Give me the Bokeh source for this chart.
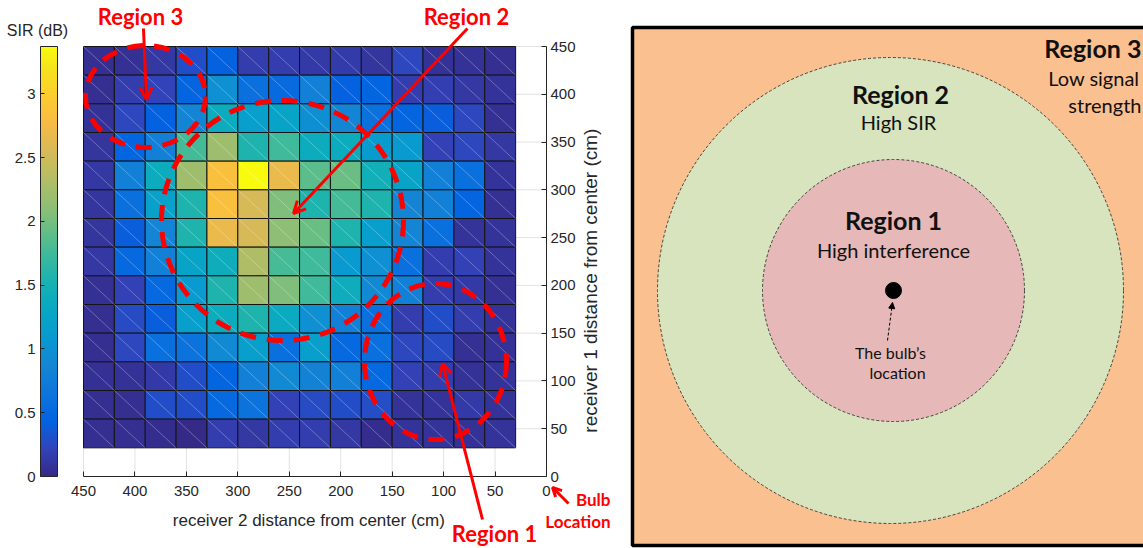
import numpy as np
from bokeh.plotting import figure
from bokeh.models import (ColumnDataSource, Range1d, FixedTicker, LinearColorMapper, LinearAxis,
                          Label, Arrow, OpenHead, NormalHead, PrintfTickFormatter)
from bokeh.embed import file_html
from bokeh.resources import INLINE

# ---------------- data ----------------
receiver2_cm = [435, 405, 375, 345, 315, 285, 255, 225, 195, 165, 135, 105, 75, 45]
receiver1_cm = [435, 405, 375, 345, 315, 285, 255, 225, 195, 165, 135, 105, 75, 45]
cell_cm = 30
# rows from top (receiver 1 = 435) to bottom (45); columns left (receiver 2 = 435) to right (45)
sir_db = [
    [0.05, 0.06, 0.12, 0.30, 0.43, 0.16, 0.16, 0.14, 0.15, 0.10, 0.25, 0.07, 0.07, 0.05],
    [0.05, 0.16, 0.22, 0.45, 0.98, 0.58, 0.52, 0.79, 0.43, 0.45, 0.16, 0.18, 0.12, 0.08],
    [0.07, 0.25, 0.43, 0.86, 1.37, 1.18, 1.24, 0.97, 0.86, 0.60, 0.45, 0.40, 0.25, 0.06],
    [0.10, 0.45, 0.79, 1.77, 2.20, 1.56, 1.74, 1.37, 1.37, 1.12, 1.10, 0.20, 0.25, 0.12],
    [0.12, 0.79, 1.37, 2.20, 2.84, 3.37, 2.68, 1.87, 1.95, 1.45, 1.24, 0.79, 0.58, 0.08],
    [0.10, 0.58, 1.20, 1.56, 2.84, 2.55, 2.05, 1.56, 1.77, 1.56, 0.86, 0.79, 0.45, 0.06],
    [0.10, 0.40, 0.86, 1.56, 2.68, 2.55, 2.12, 1.94, 1.56, 1.18, 0.86, 0.58, 0.08, 0.08],
    [0.12, 0.51, 0.79, 1.24, 1.42, 2.31, 1.79, 1.75, 1.10, 0.98, 0.58, 0.16, 0.20, 0.08],
    [0.06, 0.20, 0.51, 1.10, 1.56, 2.20, 2.05, 1.74, 1.40, 0.90, 0.79, 0.16, 0.14, 0.06],
    [0.05, 0.27, 0.40, 1.18, 1.37, 1.56, 1.35, 0.98, 0.79, 0.58, 0.16, 0.30, 0.16, 0.08],
    [0.05, 0.25, 0.58, 0.62, 0.90, 1.18, 0.58, 1.18, 0.51, 0.58, 0.25, 0.27, 0.06, 0.07],
    [0.06, 0.07, 0.14, 0.30, 0.45, 0.79, 0.92, 0.82, 0.79, 0.51, 0.20, 0.16, 0.07, 0.08],
    [0.05, 0.05, 0.30, 0.30, 0.51, 0.62, 0.20, 0.27, 0.30, 0.28, 0.08, 0.08, 0.14, 0.08],
    [0.04, 0.04, 0.03, 0.00, 0.16, 0.12, 0.16, 0.16, 0.12, 0.03, 0.08, 0.08, 0.07, 0.08],
]
axis_ticks_cm = [0, 50, 100, 150, 200, 250, 300, 350, 400, 450]
colorbar_ticks = [0, 0.5, 1, 1.5, 2, 2.5, 3]

# red annotation overlay (cm coordinates of the heat map)
region_names = ["Region 3", "Region 2", "Region 1"]
region_label_x = [394.6, 77.8, 50.5]
region_label_y = [481.4, 481.4, -59.6]
ellipse_x = [389.7, 256.6, 107.9]
ellipse_y = [397.7, 267.9, 120.3]
ellipse_w = [116.6, 235.2, 138.0]
ellipse_h = [106.7, 251.2, 163.3]
arrow_x0 = [391.7, 76.8, 62.2]
arrow_y0 = [468.8, 468.8, -45.0]
arrow_x1 = [388.8, 245.9, 101.1]
arrow_y1 = [394.5, 275.2, 118.3]

# ---------------- canvas geometry ----------------
W, H = 1143, 548
FX0, FX1 = 83, 546      # pixel columns of 450 cm and 0 cm
FY0, FY1 = 46, 476      # pixel rows of 450 cm and 0 cm
SX = (FX1 - FX0) / 450.0
SY = (FY1 - FY0) / 450.0


def cm_x(px):
    return 450 - (px - FX0) / SX


def cm_y(py):
    return 450 - (py - FY0) / SY


# ---------------- colormap (parula) ----------------
parula_anchors = ["#352A87", "#3243BA", "#0363E1", "#0D75DC", "#1485D4", "#0998D1",
                  "#06A7C6", "#15B1B4", "#38B99E", "#65BE86", "#92BF73", "#B7BD64",
                  "#D9BA56", "#F8BB44", "#FCCE2E", "#F5E41D", "#F9FB0E"]
anchor_pos = np.array([0, 4, 8, 12, 16, 20, 24, 28, 32, 36, 40, 44, 48, 52, 56, 60, 63]) / 63.0
rgb = np.array([[int(h[i:i + 2], 16) for i in (1, 3, 5)] for h in parula_anchors], float)
tt = np.linspace(0, 1, 256)
palette = ["#%02x%02x%02x" % tuple(int(round(np.interp(t, anchor_pos, rgb[:, k]))) for k in range(3))
           for t in tt]

xs, ys, vals = [], [], []
for j, yv in enumerate(receiver1_cm):
    for i, xv in enumerate(receiver2_cm):
        xs.append(xv)
        ys.append(yv)
        vals.append(sir_db[j][i])
half = cell_cm / 2
src = ColumnDataSource(dict(x=xs, y=ys, sir=vals,
                            x0=[v + half for v in xs], y0=[v + half for v in ys],
                            x1=[v - half for v in xs], y1=[v - half for v in ys]))
vmin, vmax = min(vals), max(vals)
mapper = LinearColorMapper(palette=palette, low=vmin, high=vmax)


def sir_at(py):
    return vmin + (vmax - vmin) * (FY1 - py) / (FY1 - FY0)


AX = "#262626"
AXFONT = "Liberation Sans"
RED = "#FF0000"

p = figure(width=W, height=H, x_range=Range1d(cm_x(0), cm_x(W)), y_range=Range1d(cm_y(H), cm_y(0)),
           y_axis_location="right", output_backend="svg", toolbar_location=None, min_border=0)
p.extra_x_ranges = {"px": Range1d(0, W)}
p.extra_y_ranges = {"px": Range1d(H, 0), "sir": Range1d(sir_at(H), sir_at(0))}
p.outline_line_color = None
p.grid.visible = False

# light grid lines (only over the axes box)
p.segment(x0=axis_ticks_cm, y0=[0] * 10, x1=axis_ticks_cm, y1=[450] * 10, line_color="#E2E2E2", line_width=1)
p.segment(x0=[0] * 10, y0=axis_ticks_cm, x1=[450] * 10, y1=axis_ticks_cm, line_color="#E2E2E2", line_width=1)

# heat map
p.rect('x', 'y', width=cell_cm, height=cell_cm, source=src,
       fill_color={'field': 'sir', 'transform': mapper}, line_color="#141414", line_width=1)
p.segment('x0', 'y0', 'x1', 'y1', source=src, line_color="white", line_alpha=0.28, line_width=1)

for ax in (p.xaxis, p.yaxis):
    ax.fixed_location = 0
    ax.bounds = (0, 450)
    ax.ticker = FixedTicker(ticks=axis_ticks_cm)
    ax.major_label_text_font = AXFONT
    ax.major_label_text_font_size = "15px"
    ax.major_label_text_color = AX
    ax.axis_line_color = AX
    ax.major_tick_line_color = AX
    ax.major_tick_in = 5
    ax.major_tick_out = 0
    ax.minor_tick_line_color = None
p.xaxis.major_label_standoff = 9
p.yaxis.major_label_standoff = 4

p.add_layout(Label(x=231, y=-46, text="receiver 2 distance from center (cm)",
                   text_align="center", text_baseline="middle", text_font=AXFONT,
                   text_font_size="17px", text_color=AX))
p.add_layout(Label(x=-42.8, y=205, text="receiver 1 distance from center (cm)", angle=np.pi / 2,
                   text_align="center", text_baseline="middle", text_font=AXFONT,
                   text_font_size="19px", text_color=AX))

# colour bar
p.image(image=[np.linspace(vmin, vmax, 256).reshape(256, 1)], x=40, y=vmin, dw=17, dh=vmax - vmin,
        color_mapper=mapper, x_range_name="px", y_range_name="sir")
p.quad(left=40, right=57, bottom=vmin, top=vmax, fill_color=None, line_color=AX, line_width=1,
       x_range_name="px", y_range_name="sir")
cax = LinearAxis(y_range_name="sir", fixed_location=cm_x(40), bounds=(vmin, vmax),
                 ticker=FixedTicker(ticks=colorbar_ticks), formatter=PrintfTickFormatter(format="%g"))
cax.major_label_text_font = AXFONT
cax.major_label_text_font_size = "15px"
cax.major_label_text_color = AX
cax.axis_line_color = None
cax.major_tick_line_color = AX
cax.major_tick_in = 4
cax.major_tick_out = 0
cax.minor_tick_line_color = None
cax.major_label_standoff = 5
p.add_layout(cax, "left")
p.add_layout(Label(x=37, y=30, text="SIR (dB)", text_align="center", text_baseline="middle",
                   text_font=AXFONT, text_font_size="16px", text_color=AX,
                   x_range_name="px", y_range_name="px"))

# red annotations
p.ellipse(x=ellipse_x, y=ellipse_y, width=ellipse_w, height=ellipse_h, fill_color=None,
          line_color=RED, line_width=5, line_dash="16 11")
for k in range(3):
    p.add_layout(Arrow(end=OpenHead(line_color=RED, line_width=3, size=12),
                       x_start=arrow_x0[k], y_start=arrow_y0[k], x_end=arrow_x1[k], y_end=arrow_y1[k],
                       line_color=RED, line_width=3))
    p.add_layout(Label(x=region_label_x[k], y=region_label_y[k], text=region_names[k],
                       text_align="center", text_baseline="middle", text_color=RED,
                       text_font="Lato", text_font_style="bold", text_font_size="22px"))
p.add_layout(Arrow(end=OpenHead(line_color=RED, line_width=3, size=9),
                   x_start=-21.4, y_start=-28.3, x_end=-5.8, y_end=-11.5,
                   line_color=RED, line_width=3))
for txt, yy in (("Bulb", -24.1), ("Location", -47.1)):
    p.add_layout(Label(x=-62.2, y=yy, text=txt, text_align="right", text_baseline="middle",
                       text_color=RED, text_font="Lato", text_font_style="bold",
                       text_font_size="17px"))

# ---------------- schematic diagram (pixel coordinates) ----------------
P = dict(x_range_name="px", y_range_name="px")
p.quad(left=632, right=1200, top=27, bottom=545, fill_color="#FAC090", line_color="black",
       line_width=3.5, **P)
p.circle(x=[890], y=[290], radius=233, fill_color="#D7E4BD", line_color="#333333",
         line_width=0.9, line_dash="3 2", **P)
p.circle(x=[893], y=[290], radius=131, fill_color="#E6B8B7", line_color="#333333",
         line_width=0.9, line_dash="3 2", **P)
p.circle(x=[893], y=[290], radius=8, fill_color="black", line_color="black", **P)
p.add_layout(Arrow(end=NormalHead(fill_color="black", line_color="black", size=6),
                   x_start=887, y_start=340, x_end=892, y_end=302,
                   line_color="black", line_width=1, line_dash="3 2", **P))
TXT = "#111111"
diag_texts = [
    ("Region 3", 1141, 47, "bold", "25px", "right"),
    ("Low signal", 1139, 77, "normal", "20px", "right"),
    ("strength", 1141, 104, "normal", "20px", "right"),
    ("Region 2", 900, 93, "bold", "25px", "center"),
    ("High SIR", 898, 121, "normal", "20px", "center"),
    ("Region 1", 893, 219, "bold", "25px", "center"),
    ("High interference", 893, 249, "normal", "20px", "center"),
    ("The bulb\u2019s", 890, 352, "normal", "16px", "center"),
    ("location", 897, 372, "normal", "16px", "center"),
]
for t, x, y, st, sz, al in diag_texts:
    p.add_layout(Label(x=x, y=y, text=t, text_align=al, text_baseline="middle",
                       text_font="Lato", text_font_style=st, text_font_size=sz, text_color=TXT, **P))

open("out.html", "w").write(file_html(p, INLINE))
